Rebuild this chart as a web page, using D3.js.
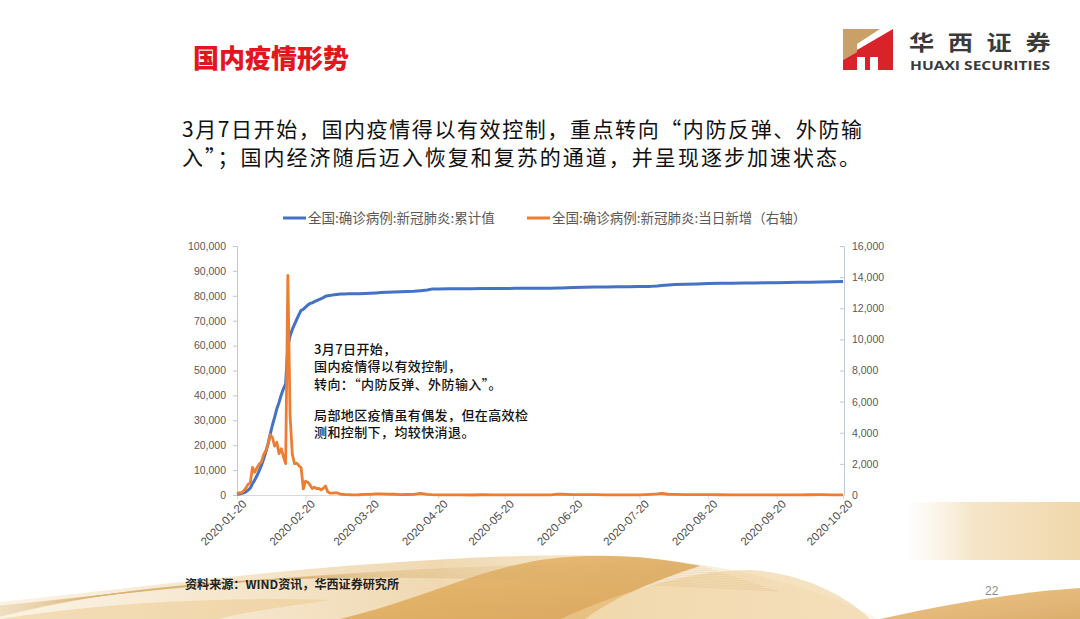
<!DOCTYPE html>
<html><head><meta charset="utf-8">
<script src="https://cdn.jsdelivr.net/npm/d3@7/dist/d3.min.js"></script>
<style>
html,body{margin:0;padding:0;background:#fff;}
svg{display:block;}
</style></head>
<body>
<svg id="c" width="1080" height="619"></svg>
<script>
// ---- data ----
const dates = ["2020-01-20","2020-01-21","2020-01-22","2020-01-23","2020-01-24","2020-01-25","2020-01-26","2020-01-27","2020-01-28","2020-01-29","2020-01-30","2020-01-31",
"2020-02-01","2020-02-02","2020-02-03","2020-02-04","2020-02-05","2020-02-06","2020-02-07","2020-02-08","2020-02-09","2020-02-10","2020-02-11","2020-02-12","2020-02-13","2020-02-14","2020-02-15","2020-02-16","2020-02-17","2020-02-18","2020-02-19","2020-02-20","2020-02-21","2020-02-22","2020-02-23","2020-02-24","2020-02-25","2020-02-26","2020-02-27","2020-02-28","2020-02-29",
"2020-03-01","2020-03-02","2020-03-03","2020-03-04","2020-03-05","2020-03-06","2020-03-07","2020-03-08","2020-03-09","2020-03-10","2020-03-11","2020-03-12","2020-03-15","2020-03-18","2020-03-20","2020-03-23","2020-03-25","2020-03-28","2020-03-31",
"2020-04-03","2020-04-06","2020-04-09","2020-04-12","2020-04-15","2020-04-17","2020-04-20","2020-04-25","2020-04-30",
"2020-05-05","2020-05-10","2020-05-15","2020-05-20","2020-05-25","2020-05-31",
"2020-06-05","2020-06-10","2020-06-13","2020-06-15","2020-06-20","2020-06-25","2020-06-30",
"2020-07-05","2020-07-10","2020-07-15","2020-07-20","2020-07-25","2020-07-28","2020-07-30",
"2020-08-02","2020-08-05","2020-08-10","2020-08-15","2020-08-20","2020-08-25","2020-08-31",
"2020-09-05","2020-09-10","2020-09-15","2020-09-20","2020-09-25","2020-09-30",
"2020-10-05","2020-10-10","2020-10-15","2020-10-20"];
const cumulative = [291,440,571,830,1287,1975,2744,4515,5974,7711,9692,11791,
14380,17205,20438,24324,28018,31161,34546,37198,40171,42638,44653,59804,63851,66492,68500,70548,72436,74185,74576,75465,76288,76936,77150,77658,78064,78497,78824,79251,79824,
80026,80151,80270,80409,80552,80651,80695,80735,80754,80778,80793,80813,80860,80928,81008,81171,81285,81439,81554,
81639,81740,81865,82052,82295,82692,82747,82827,82862,
82881,82918,82933,82965,82985,83001,
83027,83057,83132,83181,83352,83449,83531,
83565,83585,83612,83693,83784,83959,84165,
84337,84528,84668,84786,84917,85004,85058,
85112,85146,85202,85269,85322,85414,
85490,85578,85646,85704];
const dailyNew = [77,149,131,259,444,688,769,1771,1459,1737,1982,2102,
2590,2829,3235,3887,3694,3143,3385,2652,2973,2467,2015,14108,5090,2641,2009,2048,1886,1749,394,889,823,648,409,508,406,433,327,427,573,
202,125,119,139,143,99,44,40,19,24,15,8,16,34,41,78,67,54,48,
19,32,42,108,46,26,12,11,4,
1,17,4,5,11,2,
5,3,57,49,27,19,19,
8,4,5,11,46,68,105,
49,37,19,22,22,15,10,
10,7,12,14,12,10,
16,20,13,13];
const leftTicks = [0,10000,20000,30000,40000,50000,60000,70000,80000,90000,100000];
const rightTicks = [0,2000,4000,6000,8000,10000,12000,14000,16000];
const xTickLabels = ["2020-01-20","2020-02-20","2020-03-20","2020-04-20","2020-05-20","2020-06-20","2020-07-20","2020-08-20","2020-09-20","2020-10-20"];
const seriesNames = ["全国:确诊病例:新冠肺炎:累计值","全国:确诊病例:新冠肺炎:当日新增（右轴）"];
const seriesColors = ["#4472C4","#ED7D31"];

const svg = d3.select("#c");
const parse = d3.utcParse("%Y-%m-%d");
const data = dates.map((d,i)=>({date:parse(d), cum:cumulative[i], nw:dailyNew[i]}));

// ---- decorations ----
const defs = svg.append("defs");
const g1 = defs.append("linearGradient").attr("id","gold1").attr("x1","0").attr("y1","0").attr("x2","1").attr("y2","0");
g1.append("stop").attr("offset","0").attr("stop-color","#F6E6C8").attr("stop-opacity",0.5);
g1.append("stop").attr("offset","0.5").attr("stop-color","#E9C890").attr("stop-opacity",0.7);
g1.append("stop").attr("offset","1").attr("stop-color","#F6E6C8").attr("stop-opacity",0.3);
const g2 = defs.append("linearGradient").attr("id","gold2").attr("x1","0").attr("y1","0").attr("x2","1").attr("y2","1");
g2.append("stop").attr("offset","0").attr("stop-color","#E8B86A");
g2.append("stop").attr("offset","1").attr("stop-color","#D49A4A");
const g3 = defs.append("linearGradient").attr("id","gold3").attr("x1","0").attr("y1","0").attr("x2","1").attr("y2","0");
g3.append("stop").attr("offset","0").attr("stop-color","#F5E3C4").attr("stop-opacity",0);
g3.append("stop").attr("offset","0.4").attr("stop-color","#F1D9AE").attr("stop-opacity",0.7);
g3.append("stop").attr("offset","1").attr("stop-color","#EED3A2").attr("stop-opacity",0.9);

const deco = svg.append("g");
deco.append("rect").attr("x",905).attr("y",502).attr("width",175).attr("height",58).attr("fill","url(#gold3)");
deco.append("path").attr("d","M0,619 L0,602 C160,585 330,562 520,556 C680,551 790,575 880,619 Z").attr("fill","url(#gold1)");
deco.append("path").attr("d","M340,619 C420,600 470,572 540,560 C600,552 650,556 700,566 C650,582 610,600 585,619 Z").attr("fill","url(#gold2)").attr("opacity",0.85);
deco.append("path").attr("d","M560,619 C620,592 690,570 750,570 C810,574 850,600 870,619 Z").attr("fill","#EFCF98").attr("opacity",0.6);
deco.append("path").attr("d","M0,619 C80,606 200,596 330,600 C260,610 230,615 220,619 Z").attr("fill","#EBC78C").attr("opacity",0.5);
deco.append("path").attr("d","M880,619 C950,603 1020,592 1080,588 L1080,619 Z").attr("fill","url(#gold2)").attr("opacity",0.8);
for (let k=0;k<14;k++){
  deco.append("path").attr("d",`M${0},${606+k*0.8} C${200},${585-k*1.5} ${420},${560+k} ${700+k*6},${565+k*2}`)
    .attr("fill","none").attr("stroke","#D9AE6E").attr("stroke-width",0.5).attr("opacity",0.5);
}

// ---- header ----
svg.append("text").attr("x",193).attr("y",68).text("国内疫情形势")
  .attr("font-family","Noto Sans CJK SC").attr("font-weight",900).attr("font-size",26).attr("fill","#E3161F");

// logo
const logo = svg.append("g");
logo.append("polygon").attr("points","843,29 880,29 857,44 857,52 843,60").attr("fill","#C9A068");
logo.append("polygon").attr("points","843,60 857,52 857,50 893,29 893,70 878,70 878,57 870,57 870,70 865,70 865,57 857,57 857,70 843,70").attr("fill","#D8232A");
svg.append("text").attr("transform","translate(909,50) scale(1.2,1)").text("华西证券")
  .attr("font-family","Noto Sans CJK SC").attr("font-weight",700).attr("font-size",21).attr("fill","#3A3A3A")
  .attr("textLength",118).attr("lengthAdjust","spacing");
svg.append("text").attr("x",910).attr("y",70).text("HUAXI SECURITIES")
  .attr("font-family","Open Sans, Liberation Sans").attr("font-weight",700).attr("font-size",11.5).attr("fill","#3A3A3A")
  .attr("textLength",140).attr("lengthAdjust","spacingAndGlyphs");

// body text
svg.append("text").attr("x",182).attr("y",137).text("3月7日开始，国内疫情得以有效控制，重点转向“内防反弹、外防输")
  .attr("font-family","Noto Sans CJK SC").attr("font-weight",400).attr("font-size",21).attr("fill","#111")
  .attr("textLength",680).attr("lengthAdjust","spacing");
svg.append("text").attr("x",182).attr("y",165).text("入”；国内经济随后迈入恢复和复苏的通道，并呈现逐步加速状态。")
  .attr("font-family","Noto Sans CJK SC").attr("font-weight",400).attr("font-size",21).attr("fill","#111")
  .attr("textLength",678).attr("lengthAdjust","spacing");

// ---- chart ----
const x = d3.scaleUtc().domain([parse("2020-01-20"), parse("2020-10-20")]).range([237, 843]);
const yL = d3.scaleLinear().domain([0,100000]).range([495,246]);
const yR = d3.scaleLinear().domain([0,16000]).range([495,246]);
const fmt = d3.format(",");
const tickFont = "Liberation Sans, Arial, sans-serif";

// left axis
const ax = svg.append("g").attr("transform","translate(237,0)")
  .call(d3.axisLeft(yL).tickValues(leftTicks).tickFormat(fmt).tickSize(4).tickPadding(7));
ax.select(".domain").attr("stroke","#BFC9D9");
ax.selectAll(".tick line").attr("stroke","#BFC9D9");
ax.selectAll("text").attr("font-family",tickFont).attr("font-size",10.5).attr("fill","#595959");

// right axis
const ar = svg.append("g").attr("transform","translate(844,0)")
  .call(d3.axisRight(yR).tickValues(rightTicks).tickFormat(fmt).tickSize(-4).tickPadding(8));
ar.select(".domain").attr("stroke","#BFC9D9");
ar.selectAll(".tick line").attr("stroke","#BFC9D9");
ar.selectAll("text").attr("font-family",tickFont).attr("font-size",10.5).attr("fill","#595959");

// x axis
const xa = svg.append("g").attr("transform","translate(0,495)")
  .call(d3.axisBottom(x).tickValues(xTickLabels.map(parse)).tickFormat(d3.utcFormat("%Y-%m-%d")).tickSize(4).tickSizeOuter(0));
xa.select(".domain").attr("stroke","#D9D9D9");
xa.selectAll(".tick line").attr("stroke","#D9D9D9");
xa.selectAll("text").attr("font-family",tickFont).attr("font-size",11.5).attr("fill","#4D4D4D")
  .attr("text-anchor","end").attr("transform","translate(4,4) rotate(-45)").attr("dy","0.35em").attr("y",4);

// lines
svg.append("path").datum(data).attr("fill","none").attr("stroke",seriesColors[0]).attr("stroke-width",3)
  .attr("stroke-linejoin","round").attr("d", d3.line().x(d=>x(d.date)).y(d=>yL(d.cum)));
svg.append("path").datum(data).attr("fill","none").attr("stroke",seriesColors[1]).attr("stroke-width",2.8)
  .attr("stroke-linejoin","round").attr("d", d3.line().x(d=>x(d.date)).y(d=>yR(d.nw)));

// legend
const lg = svg.append("g");
const legX = [283, 527];
seriesNames.forEach((n,i)=>{
  lg.append("line").attr("x1",legX[i]).attr("x2",legX[i]+23).attr("y1",218).attr("y2",218)
    .attr("stroke",seriesColors[i]).attr("stroke-width",3);
  lg.append("text").attr("x",legX[i]+25).attr("y",218).attr("dy","0.35em").text(n)
    .attr("font-family","Noto Sans CJK SC").attr("font-size",13.5).attr("fill","#595959");
});

// annotation
const notes = ["3月7日开始，","国内疫情得以有效控制，","转向：“内防反弹、外防输入”。","","局部地区疫情虽有偶发，但在高效检","测和控制下，均较快消退。"];
const notesY = [349,366.5,384,0,415,432];
notes.forEach((t,i)=>{
  if(!t) return;
  svg.append("text").attr("x",314).attr("y",notesY[i]).attr("dy","0.35em").text(t)
    .attr("font-family","Noto Sans CJK SC").attr("font-weight",500).attr("font-size",13).attr("fill","#111")
    .attr("letter-spacing",0.4);
});

// footer
svg.append("text").attr("x",185).attr("y",585).attr("dy","0.35em").text("资料来源：WIND资讯，华西证券研究所")
  .attr("font-family","Noto Sans CJK SC").attr("font-weight",700).attr("font-size",12).attr("fill","#222")
  .attr("textLength",214).attr("lengthAdjust","spacingAndGlyphs");
svg.append("text").attr("x",985).attr("y",591).attr("dy","0.35em").text("22")
  .attr("font-family",tickFont).attr("font-size",12).attr("fill","#8C8C8C");
</script>
</body></html>
